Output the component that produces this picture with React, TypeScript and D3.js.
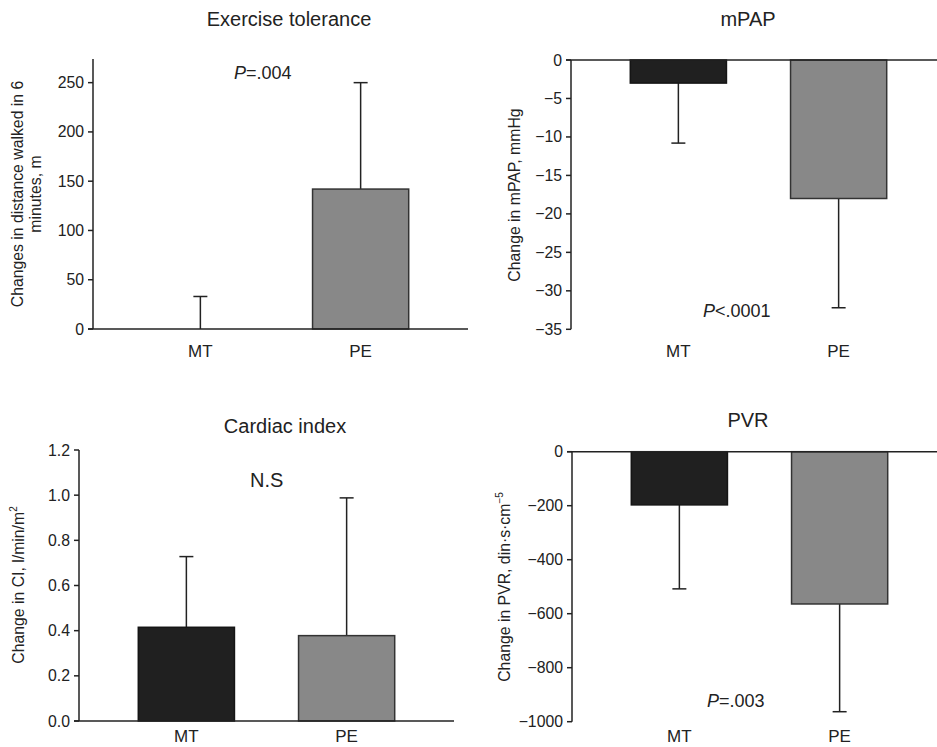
import React from 'react';
import * as d3 from 'd3';

const groups = ['MT', 'PE'];
const barColors = ['#202020', '#888888'];
const barStrokes = ['#151515', '#333333'];

// mean change and one-sided SD per group
const exerciseMean = [0, 142];
const exerciseSD = [33, 108];
const mpapMean = [-3, -18];
const mpapSD = [7.8, 14.2];
const ciMean = [0.415, 0.378];
const ciSD = [0.313, 0.61];
const pvrMean = [-197, -564];
const pvrSD = [311, 399];

const exerciseTicks = [0, 50, 100, 150, 200, 250];
const mpapTicks = [0, -5, -10, -15, -20, -25, -30, -35];
const ciTicks = [0, 0.2, 0.4, 0.6, 0.8, 1.0, 1.2];
const pvrTicks = [0, -200, -400, -600, -800, -1000];

const FONT = '"Liberation Sans", Arial, Helvetica, sans-serif';
const INK = '#222';

const Panel = ({ left, domain, range, ticks, fmt, means, sds, title, titleX, titleY, ylabel, ylabelX, ylabelY, note, noteX, noteY, noteItalic, noteSize = 18, catOffset = 28 }) => {
	const y = d3.scaleLinear().domain(domain).range(range);
	const x = d3
		.scaleBand()
		.domain(groups)
		.range([left, left + 375])
		.paddingInner(0.4)
		.paddingOuter(0.37);
	const plotBottom = Math.max(range[0], range[1]);
	const plotTop = Math.min(range[0], range[1]);
	const y0 = y(0);
	const cap = 7;

	return (
		<g>
			<text x={titleX} y={titleY} textAnchor='middle' fontSize={20} fill={INK}>{title}</text>

			{/* bars */}
			{means.map((m, i) => {
				const bx = x(groups[i]);
				const top = Math.min(y(m), y0);
				const h = Math.abs(y(m) - y0);
				const cx = bx + x.bandwidth() / 2;
				const tip = y(m + Math.sign(m || 1) * sds[i]);
				return (
					<g key={groups[i]}>
						<line x1={cx} x2={cx} y1={y(m)} y2={tip} stroke={INK} strokeWidth={1.5} />
						<line x1={cx - cap} x2={cx + cap} y1={tip} y2={tip} stroke={INK} strokeWidth={1.5} />
						{h > 0 && (
							<rect x={bx} y={top} width={x.bandwidth()} height={h}
								fill={barColors[i]} stroke={barStrokes[i]} strokeWidth={1.5} />
						)}
					</g>
				);
			})}

			{/* axes */}
			<line x1={left} x2={left} y1={plotTop} y2={plotBottom} stroke={INK} strokeWidth={1.5} />
			<line x1={left - 5} x2={left + 375} y1={y0} y2={y0} stroke={INK} strokeWidth={1.5} />
			{ticks.map(t => (
				<g key={t}>
					<line x1={left - 5} x2={left} y1={y(t)} y2={y(t)} stroke={INK} strokeWidth={1.5} />
					<text x={left - 9} y={y(t)} dy='0.35em' textAnchor='end' fontSize={15.8} fill={INK}>{fmt(t)}</text>
				</g>
			))}
			{groups.map(g => (
				<text key={g} x={x(g) + x.bandwidth() / 2} y={plotBottom + catOffset} textAnchor='middle' fontSize={17} fill={INK}>{g}</text>
			))}

			<text transform={`translate(${ylabelX},${ylabelY}) rotate(-90)`} textAnchor='middle' fontSize={15.8} fill={INK}>
				{ylabel}
			</text>

			<text x={noteX} y={noteY} fontSize={noteSize} fill={INK}>
				{noteItalic ? <tspan fontStyle='italic'>P</tspan> : null}{note}
			</text>
		</g>
	);
};

const App = () => {
	const intFmt = d3.format('d');
	const decFmt = d3.format('.1f');
	return (
		<svg width={937} height={747} style={{ position: 'absolute', left: 0, top: 0, background: '#fff' }} fontFamily={FONT}>
			<Panel
				left={93} domain={[0, 274]} range={[329, 59]} ticks={exerciseTicks} fmt={intFmt}
				means={exerciseMean} sds={exerciseSD}
				title='Exercise tolerance' titleX={289} titleY={26}
				ylabel={[
					<tspan key='a' x={0} dy={-9}>Changes in distance walked in 6</tspan>,
					<tspan key='b' x={0} dy={18}>minutes, m</tspan>,
				]}
				ylabelX={32} ylabelY={194}
				note='=.004' noteItalic noteX={234} noteY={79}
			/>
			<Panel
				left={571} domain={[0, -35]} range={[60, 329.3]} ticks={mpapTicks} fmt={intFmt}
				means={mpapMean} sds={mpapSD}
				title='mPAP' titleX={748} titleY={26}
				ylabel='Change in mPAP, mmHg'
				ylabelX={520} ylabelY={195}
				note='<.0001' noteItalic noteX={703} noteY={317}
			/>
			<Panel
				left={79} domain={[0, 1.2]} range={[721, 450]} ticks={ciTicks} fmt={decFmt}
				means={ciMean} sds={ciSD}
				title='Cardiac index' titleX={285} titleY={433}
				ylabel={[
					<tspan key='a'>Change in CI, l/min/m</tspan>,
					<tspan key='b' dy={-7} fontSize={10}>2</tspan>,
				]}
				ylabelX={24} ylabelY={585}
				note='N.S' noteSize={20} noteX={250} noteY={487}
				catOffset={20.5}
			/>
			<Panel
				left={572} domain={[0, -1000]} range={[451.7, 721.7]} ticks={pvrTicks} fmt={intFmt}
				means={pvrMean} sds={pvrSD}
				title='PVR' titleX={748} titleY={427}
				ylabel={[
					<tspan key='a'>Change in PVR, din·s·cm</tspan>,
					<tspan key='b' dy={-7} fontSize={10}>−5</tspan>,
				]}
				ylabelX={510} ylabelY={587}
				note='=.003' noteItalic noteX={707} noteY={707}
				catOffset={20}
			/>
		</svg>
	);
};

export default App;
